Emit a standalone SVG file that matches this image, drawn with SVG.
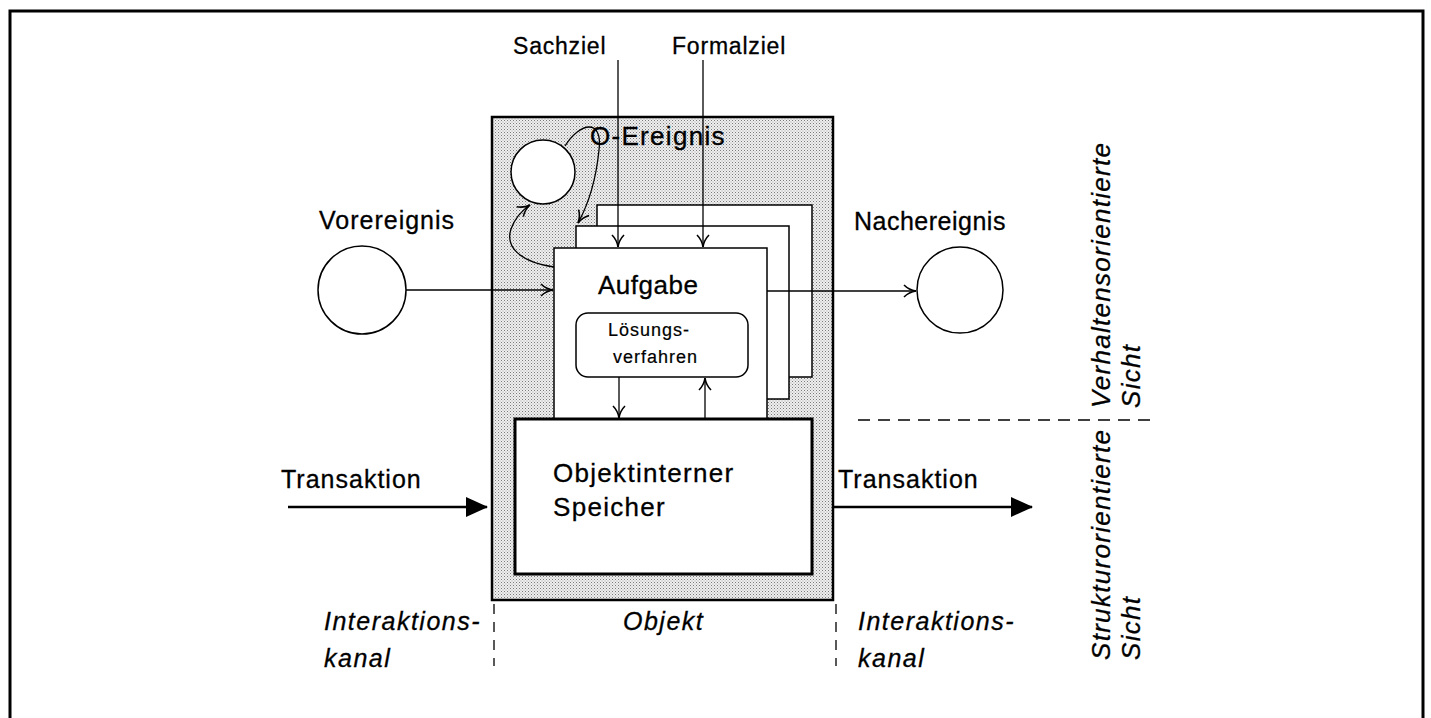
<svg xmlns="http://www.w3.org/2000/svg" width="1431" height="718" viewBox="0 0 1431 718">
<defs>
<pattern id="stip" width="3" height="3" patternUnits="userSpaceOnUse">
<rect width="3" height="3" fill="#efefef"/>
<rect x="0" y="0" width="1" height="1" fill="#7a7a7a"/>
<rect x="1.5" y="1.5" width="1" height="1" fill="#a0a0a0"/>
</pattern>
<marker id="open" viewBox="0 0 14 14" refX="13" refY="7" markerWidth="14" markerHeight="14" markerUnits="userSpaceOnUse" orient="auto">
<path d="M1,1 Q6,6 13,7 Q6,8 1,13" fill="none" stroke="#000" stroke-width="1.6"/>
</marker>
<marker id="solid" viewBox="0 0 22 20" refX="21" refY="10" markerWidth="22" markerHeight="20" markerUnits="userSpaceOnUse" orient="auto">
<path d="M0,0 L22,10 L0,20 Z" fill="#000"/>
</marker>
</defs>
<style>
.t{font-family:"Liberation Sans",Arial,sans-serif;font-size:25px;letter-spacing:1px;fill:#000;stroke:#000;stroke-width:0.3}
.i{font-family:"Liberation Sans",Arial,sans-serif;font-size:25px;font-style:italic;letter-spacing:1.5px;fill:#000;stroke:#000;stroke-width:0.3}
.s{font-family:"Liberation Sans",Arial,sans-serif;font-size:18px;letter-spacing:1px;fill:#000;stroke:#000;stroke-width:0.2}
.thin{fill:none;stroke:#000;stroke-width:1.3}
.box{fill:#fff;stroke:#000;stroke-width:1.5}
.circ{fill:#fff;stroke:#000;stroke-width:1.5}
.dash{fill:none;stroke:#000;stroke-width:1.3;stroke-dasharray:12 8}
</style>
<rect width="1431" height="718" fill="#fff"/>
<path d="M10,720 L10,11 L1423,11 L1423,720" fill="none" stroke="#000" stroke-width="3"/>

<g id="objekt">
<rect x="492" y="117" width="341" height="483" fill="url(#stip)" stroke="#000" stroke-width="2.5"/>
</g>
<g id="page-back"><rect class="box" x="597" y="205" width="215" height="172"/></g>
<g id="page-mid"><rect class="box" x="576" y="226" width="213" height="173"/></g>
<g id="aufgabe">
<rect class="box" x="554" y="248" width="213" height="180"/>
<text class="t" x="598" y="294" style="font-size:26px;letter-spacing:0.5px">Aufgabe</text>
</g>
<g id="loesungsverfahren">
<rect class="box" x="576" y="313" width="172" height="64" rx="12"/>
<text class="s" x="608" y="336">Lösungs-</text>
<text class="s" x="613" y="363">verfahren</text>
</g>
<g id="speicher">
<rect x="515" y="419" width="297" height="155" fill="#fff" stroke="#000" stroke-width="3"/>
<text class="t" x="553" y="482" style="font-size:26px;letter-spacing:1.3px">Objektinterner</text>
<text class="t" x="553" y="516" style="font-size:26px;letter-spacing:1.3px">Speicher</text>
</g>
<g id="o-ereignis">
<circle class="circ" cx="543" cy="172" r="32"/>
<text class="t" x="590" y="145" style="font-size:26px;letter-spacing:1.3px">O-Ereignis</text>
</g>
<g id="vorereignis">
<circle class="circ" cx="362" cy="290" r="44"/>
<text class="t" x="319" y="229">Vorereignis</text>
</g>
<g id="nachereignis">
<circle class="circ" cx="960" cy="290" r="43"/>
<text class="t" x="854" y="230" style="letter-spacing:0.5px">Nachereignis</text>
</g>
<g id="ziele">
<text class="t" x="513" y="54" style="font-size:23px;letter-spacing:0.8px">Sachziel</text>
<text class="t" x="672" y="54" style="font-size:23px;letter-spacing:0.8px">Formalziel</text>
</g>
<g id="labels">
<text class="t" x="281" y="488">Transaktion</text>
<text class="t" x="838" y="488">Transaktion</text>
<text class="i" x="324" y="630">Interaktions-</text>
<text class="i" x="324" y="667">kanal</text>
<text class="i" x="623" y="630">Objekt</text>
<text class="i" x="858" y="630">Interaktions-</text>
<text class="i" x="858" y="667">kanal</text>
<text class="i" transform="translate(1110,408) rotate(-90)" style="font-size:26px;letter-spacing:1.3px">Verhaltensorientierte</text>
<text class="i" transform="translate(1140,408) rotate(-90)" style="font-size:26px;letter-spacing:1.3px">Sicht</text>
<text class="i" transform="translate(1110,660) rotate(-90)" style="font-size:26px;letter-spacing:1.3px">Strukturorientierte</text>
<text class="i" transform="translate(1140,660) rotate(-90)" style="font-size:26px;letter-spacing:1.3px">Sicht</text>
</g>
<g id="connectors">
<line class="thin" x1="618" y1="60" x2="618" y2="247" marker-end="url(#open)"/>
<line class="thin" x1="703" y1="60" x2="703" y2="247" marker-end="url(#open)"/>
<line class="thin" x1="406" y1="290" x2="553" y2="290" marker-end="url(#open)"/>
<line class="thin" x1="767" y1="291" x2="916" y2="291" marker-end="url(#open)"/>
<line class="thin" x1="619" y1="377" x2="619" y2="418" marker-end="url(#open)"/>
<line class="thin" x1="705" y1="419" x2="705" y2="378" marker-end="url(#open)"/>
<path class="thin" d="M565,146 C580,122 603,118 599,150 C596,180 588,205 578,223" marker-end="url(#open)"/>
<path class="thin" d="M554,267 C520,262 505,247 511,229 C515,218 521,211 530,205" marker-end="url(#open)"/>
<line x1="288" y1="507" x2="487" y2="507" stroke="#000" stroke-width="2.5" marker-end="url(#solid)"/>
<line x1="833" y1="507" x2="1032" y2="507" stroke="#000" stroke-width="2.5" marker-end="url(#solid)"/>
<line class="dash" x1="858" y1="420" x2="1155" y2="420"/>
<line class="dash" x1="494" y1="604" x2="494" y2="666" style="stroke-dasharray:10 8"/>
<line class="dash" x1="836" y1="604" x2="836" y2="666" style="stroke-dasharray:10 8"/>
</g>
</svg>
